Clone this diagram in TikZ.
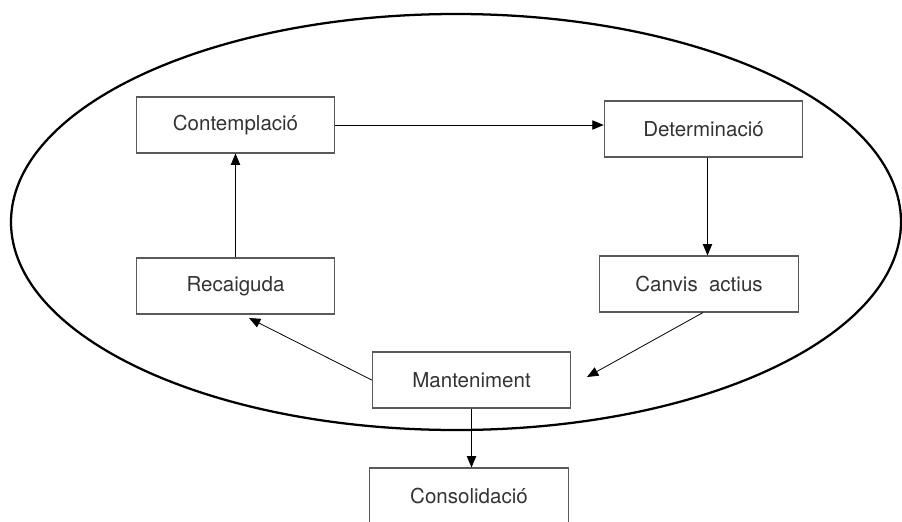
\documentclass[tikz,border=0pt]{standalone}
\usepackage{fontspec}
\setmainfont{TeX Gyre Heros}
\usetikzlibrary{arrows.meta,positioning}

\begin{document}
\begin{tikzpicture}[x=0.75pt,y=-0.75pt,font=\fontsize{15.4}{18}\selectfont,
   stage/.style={draw=black!65,line width=0.8pt,text=black!80,minimum width=149pt,
                 minimum height=42pt,align=center},
   fl/.style={-{Triangle[length=8.5pt,width=7pt]},line width=0.6pt}]
  \clip (0,0) rectangle (902,521);
  \draw[line width=1.7pt] (456,222) ellipse [x radius=445,y radius=208];
  \node[stage] (cont) at (235.5,125) {Contemplació};
  \node[stage] (det)  at (703.5,129) {Determinació};
  \node[stage] (canv) at (699,284)   {Canvis\hspace{0.55em}actius};
  \node[stage] (rec)  at (235.5,286) {Recaiguda};
  \node[stage] (mant) at (471.5,380) {Manteniment};
  \node[stage] (cons) at (469,496)   {Consolidació};
  \coordinate (mantR) at (587,377);
  \coordinate (recB)  at (249,318);
  \draw[fl] (cont.east) -- (cont.east -| det.west);
  \draw[fl] ([xshift=3pt]det.south) -- ([xshift=3pt]det.south |- canv.north);
  \draw[fl] ([xshift=3pt]canv.south) -- (mantR);
  \draw[fl] (mant.west) -- (recB);
  \draw[fl] (rec.north) -- (rec.north |- cont.south);
  \draw[fl] (mant.south) -- (mant.south |- cons.north);
\end{tikzpicture}
\end{document}
